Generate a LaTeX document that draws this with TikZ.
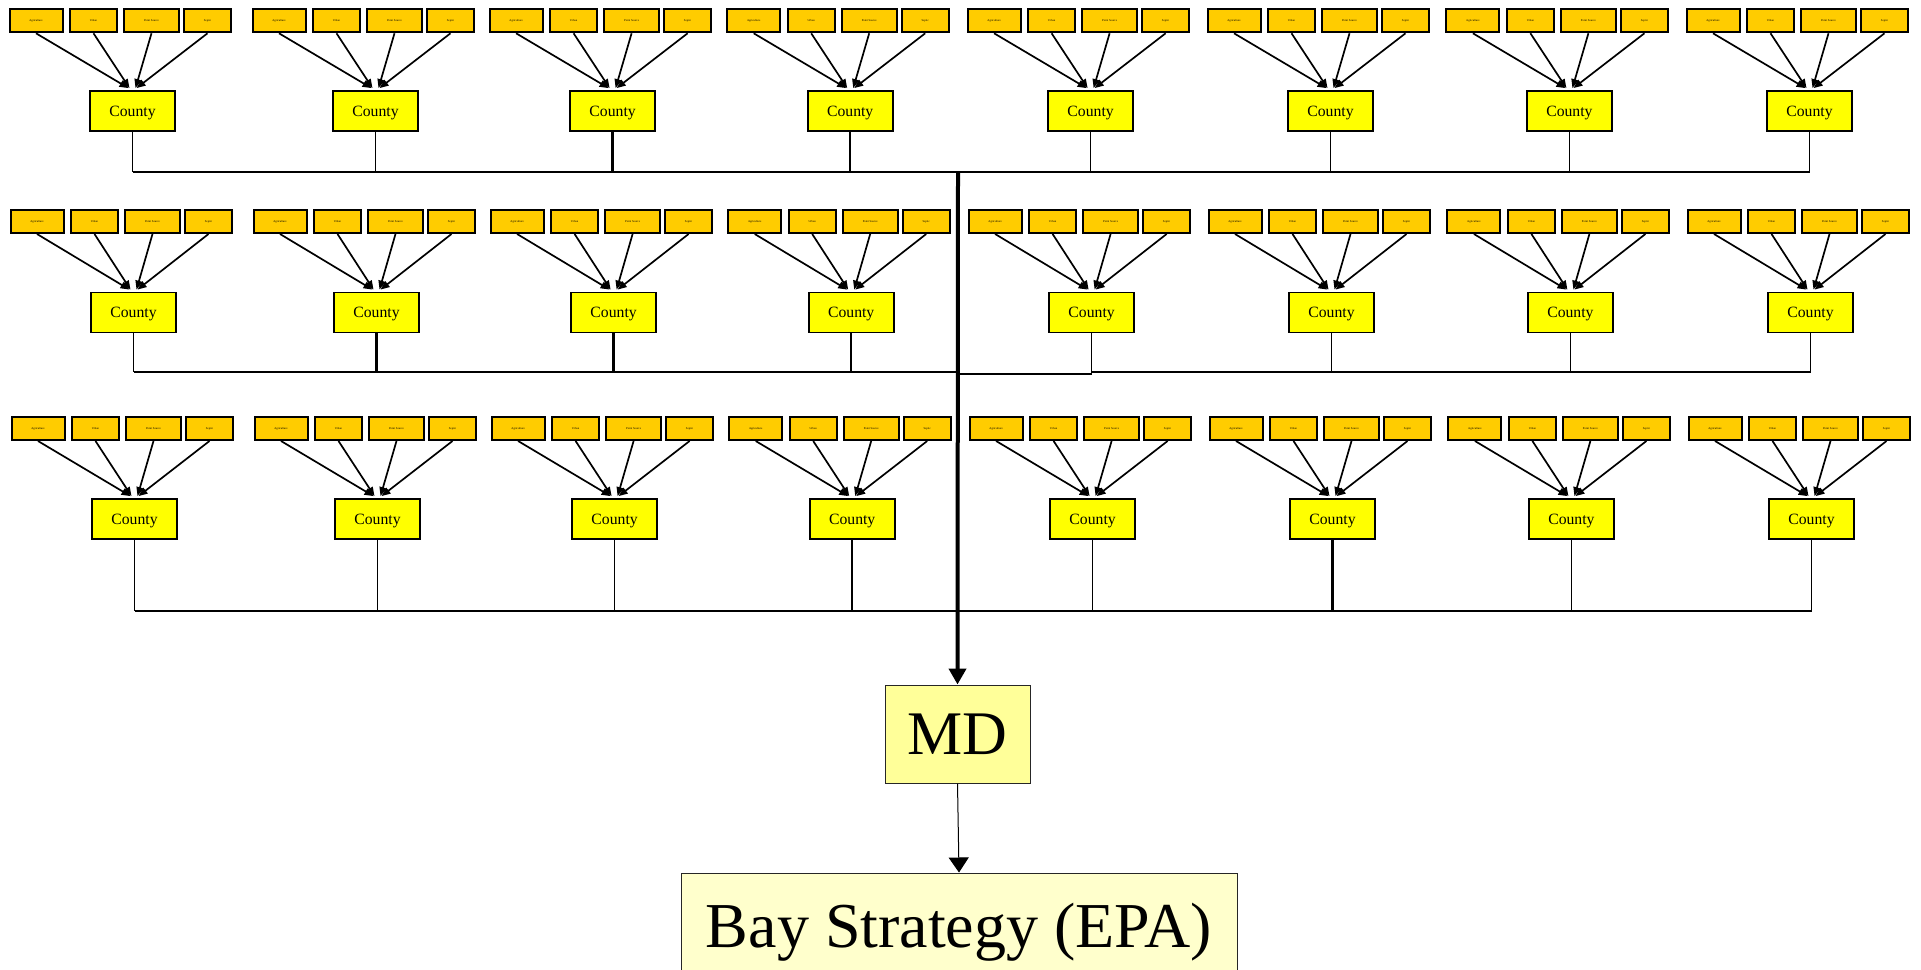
\documentclass[tikz,border=0pt]{standalone}
\usepackage{fontspec}
\setmainfont{Liberation Serif}
\usetikzlibrary{arrows.meta}
\definecolor{srcfill}{HTML}{FFCC00}
\definecolor{cntfill}{HTML}{FFFF00}
\definecolor{mdfill}{HTML}{FFFF99}
\definecolor{bayfill}{HTML}{FFFFCC}
\begin{document}
\begin{tikzpicture}[x=1pt,y=-1pt,
  srcbox/.style={draw=black, line width=2pt, fill=srcfill, minimum height=23pt, inner sep=0pt, font=\fontsize{2.9}{3}\selectfont},
  cntbox/.style={draw=black, line width=1.8pt, fill=cntfill, minimum width=85pt, minimum height=40pt, inner sep=0pt, text height=10.4pt, text depth=0pt, font=\fontsize{15.7}{17}\selectfont},
  feed/.style={line width=1.7pt, -{Triangle[length=9pt,width=7pt]}},
  stem/.style={line width=1.5pt},
  bus/.style={line width=1.5pt},
  busthick/.style={line width=2.8pt},
  trunk/.style={line width=4pt, -{Triangle[length=16pt,width=17pt]}},
  mdbox/.style={draw=black!85, line width=1pt, fill=mdfill, minimum width=145pt, minimum height=98pt, inner sep=0pt, text height=41pt, text depth=0pt, font=\fontsize{62}{70}\selectfont},
  baybox/.style={draw=black!85, line width=1pt, fill=bayfill, minimum width=556pt, minimum height=107pt, inner sep=0pt, text height=42.4pt, text depth=0pt, font=\fontsize{64}{70}\selectfont}]
\useasboundingbox (0,0) rectangle (1921,969);
\clip (0,0) rectangle (1921,969);
\fill[white] (0,0) rectangle (1921,969);
\foreach \r/\by/\cy/\dx/\jy in {1/20.8/111/0/172, 2/221.5/312.5/1/372, 3/428.5/519/2/611}{
  \foreach \cx [count=\g] in {132.5,375.5,612.6,850.2,1090.6,1330.5,1569.4,1809.5}{
    \node[srcbox, minimum width=53pt] (s\r-\g-a) at (\cx+\dx-96.5,\by) {Agriculture};
    \node[srcbox, minimum width=47pt] (s\r-\g-b) at (\cx+\dx-39,\by) {Urban};
    \node[srcbox, minimum width=55pt] (s\r-\g-c) at (\cx+\dx+19,\by) {Point Source};
    \node[srcbox, minimum width=47pt] (s\r-\g-d) at (\cx+\dx+75,\by) {Septic};
    \node[cntbox] (c\r-\g) at (\cx+\dx,\cy) {County};
    \draw[feed] (s\r-\g-a.south) -- ([xshift=-4pt,yshift=2pt]c\r-\g.north);
    \draw[feed] (s\r-\g-b.south) -- ([xshift=-3pt,yshift=2pt]c\r-\g.north);
    \draw[feed] (s\r-\g-c.south) -- ([xshift=3pt,yshift=2pt]c\r-\g.north);
    \draw[feed] (s\r-\g-d.south) -- ([xshift=4pt,yshift=2pt]c\r-\g.north);
    \coordinate (j\r-\g) at (\cx+\dx,\jy);
  }
}
% MD and Bay
\node[mdbox] (md) at (957.5,734) {MD};
\node[baybox] (bay) at (959,926.5) {Bay Strategy (EPA)};
% row 1 stems and bus
\foreach \g in {1,2,4,5,6,7,8}{\draw[stem] (c1-\g.south) -- (j1-\g);}
\draw[busthick] (c1-3.south) -- (j1-3);
\draw[bus] (j1-1) -- (j1-2);
\draw[busthick] (j1-2) -- (j1-7);
\draw[bus] (j1-7) -- (j1-8);
% row 2
\coordinate (t2) at (958,372);
\coordinate (t2r) at (958,374);
\coordinate (j2-5r) at (1091.6,374);
\foreach \g in {1,4,6,7,8}{\draw[stem] (c2-\g.south) -- (j2-\g);}
\draw[busthick] (c2-2.south) -- (j2-2);
\draw[busthick] (c2-3.south) -- (j2-3);
\draw[stem] (c2-5.south) -- (j2-5r);
\draw[bus] (j2-1) -- (j2-2);
\draw[busthick] (j2-2) -- (t2);
\draw[line width=2.2pt] (t2r) -- (j2-5r);
\draw[bus] (j2-5) -- (j2-8);
% row 3
\foreach \g in {1,2,3,4,5,7,8}{\draw[stem] (c3-\g.south) -- (j3-\g);}
\draw[line width=2.4pt] (c3-6.south) -- (j3-6);
\draw[bus] (j3-1) -- (j3-8);
% trunk
\coordinate (t1) at (958,172);
\draw[trunk] (t1) -- (md.north);
\draw[line width=1pt, -{Triangle[length=15pt,width=20pt]}] (md.south) -- (bay.north);
\end{tikzpicture}
\end{document}
